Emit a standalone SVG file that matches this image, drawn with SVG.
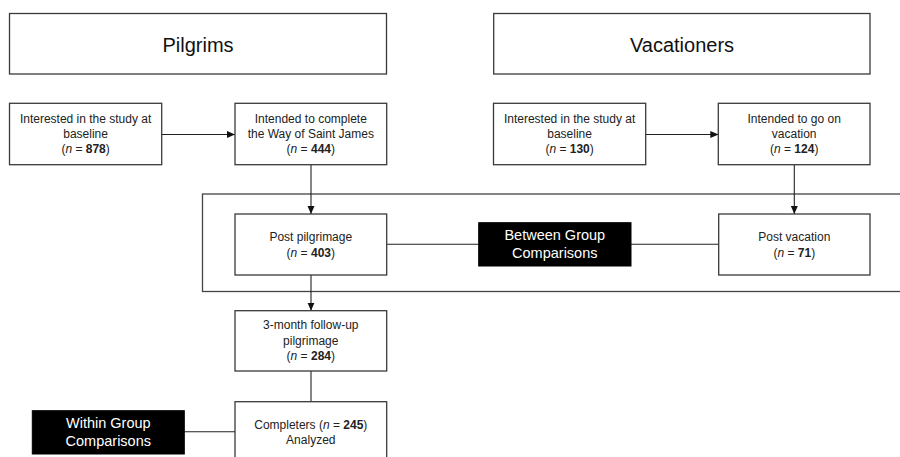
<svg xmlns="http://www.w3.org/2000/svg" width="900" height="457" viewBox="0 0 900 457">
<defs>
<marker id="arr" viewBox="0 0 8 8" refX="8" refY="4" markerWidth="8" markerHeight="8" markerUnits="userSpaceOnUse" orient="auto">
<path d="M0,0.5 L8,4 L0,7.5 Z" fill="#111"/>
</marker>
<style>
.box{fill:#fff;stroke:#3a3a3a;stroke-width:1.3}
.blk{fill:#000;stroke:#000}
.t{font-family:"Liberation Sans",Arial,sans-serif;font-size:12px;fill:#222;text-anchor:middle}
.h{font-family:"Liberation Sans",Arial,sans-serif;font-size:20px;fill:#111;text-anchor:middle}
.w{font-family:"Liberation Sans",Arial,sans-serif;font-size:14.5px;fill:#fff;text-anchor:middle}
.ln{stroke:#222;stroke-width:1.1;fill:none}
.frame{fill:none;stroke:#444;stroke-width:1.3}
</style>
</defs>
<rect width="900" height="457" fill="#fff"/>
<rect class="frame" x="202.5" y="194" width="710" height="97.5"/>
<g id="connectors">
<line class="ln" x1="161.7" y1="134.5" x2="235" y2="134.5" marker-end="url(#arr)"/>
<line class="ln" x1="645.7" y1="134.5" x2="718.3" y2="134.5" marker-end="url(#arr)"/>
<line class="ln" x1="311" y1="164.7" x2="311" y2="214" marker-end="url(#arr)"/>
<line class="ln" x1="794.3" y1="164.7" x2="794.3" y2="214" marker-end="url(#arr)"/>
<line class="ln" x1="386.7" y1="244.3" x2="478.7" y2="244.3"/>
<line class="ln" x1="631" y1="244.3" x2="718.7" y2="244.3"/>
<line class="ln" x1="311" y1="275" x2="311" y2="310.7" marker-end="url(#arr)"/>
<line class="ln" x1="311" y1="371" x2="311" y2="401.7"/>
<line class="ln" x1="184.3" y1="431.7" x2="235" y2="431.7"/>
</g>
<g id="pilgrims">
<rect class="box" x="9.5" y="13.5" width="377" height="60.5"/>
<text class="h" x="198" y="51.5">Pilgrims</text>
</g>
<g id="vacationers">
<rect class="box" x="493.7" y="13.5" width="376.3" height="60.5"/>
<text class="h" x="682" y="51.5">Vacationers</text>
</g>
<g id="p-interested">
<rect class="box" x="9.5" y="103.3" width="152.2" height="61.4"/>
<text class="t" x="85.6" y="122.5">Interested in the study at</text>
<text class="t" x="85.6" y="137.5">baseline</text>
<text class="t" x="85.6" y="152.5">(<tspan font-style="italic">n</tspan> = <tspan font-weight="bold">878</tspan>)</text>
</g>
<g id="p-intended">
<rect class="box" x="235" y="103.3" width="151.7" height="61.4"/>
<text class="t" x="310.8" y="122.5">Intended to complete</text>
<text class="t" x="310.8" y="137.5">the Way of Saint James</text>
<text class="t" x="310.8" y="152.5">(<tspan font-style="italic">n</tspan> = <tspan font-weight="bold">444</tspan>)</text>
</g>
<g id="v-interested">
<rect class="box" x="493.5" y="103.3" width="152.2" height="61.4"/>
<text class="t" x="569.6" y="122.5">Interested in the study at</text>
<text class="t" x="569.6" y="137.5">baseline</text>
<text class="t" x="569.6" y="152.5">(<tspan font-style="italic">n</tspan> = <tspan font-weight="bold">130</tspan>)</text>
</g>
<g id="v-intended">
<rect class="box" x="718.3" y="103.3" width="151.7" height="61.4"/>
<text class="t" x="794.2" y="122.5">Intended to go on</text>
<text class="t" x="794.2" y="137.5">vacation</text>
<text class="t" x="794.2" y="152.5">(<tspan font-style="italic">n</tspan> = <tspan font-weight="bold">124</tspan>)</text>
</g>
<g id="post-pilgrimage">
<rect class="box" x="235" y="214" width="151.7" height="61"/>
<text class="t" x="310.8" y="240.7">Post pilgrimage</text>
<text class="t" x="310.8" y="257">(<tspan font-style="italic">n</tspan> = <tspan font-weight="bold">403</tspan>)</text>
</g>
<g id="between">
<rect class="blk" x="478.7" y="222.7" width="152.3" height="43.3"/>
<text class="w" x="554.8" y="240">Between Group</text>
<text class="w" x="554.8" y="258.3">Comparisons</text>
</g>
<g id="post-vacation">
<rect class="box" x="718.7" y="214" width="151.3" height="61"/>
<text class="t" x="794.3" y="240.7">Post vacation</text>
<text class="t" x="794.3" y="257">(<tspan font-style="italic">n</tspan> = <tspan font-weight="bold">71</tspan>)</text>
</g>
<g id="followup">
<rect class="box" x="235" y="310.7" width="151.7" height="60.3"/>
<text class="t" x="310.8" y="329">3-month  follow-up</text>
<text class="t" x="310.8" y="344.5">pilgrimage</text>
<text class="t" x="310.8" y="360">(<tspan font-style="italic">n</tspan> = <tspan font-weight="bold">284</tspan>)</text>
</g>
<g id="completers">
<rect class="box" x="235" y="401.7" width="151.7" height="70"/>
<text class="t" x="310.8" y="429.3">Completers (<tspan font-style="italic">n</tspan> = <tspan font-weight="bold">245</tspan>)</text>
<text class="t" x="310.8" y="444">Analyzed</text>
</g>
<g id="within">
<rect class="blk" x="32.3" y="410.7" width="152" height="43.3"/>
<text class="w" x="108.3" y="427.7">Within Group</text>
<text class="w" x="108.3" y="446">Comparisons</text>
</g>
</svg>
